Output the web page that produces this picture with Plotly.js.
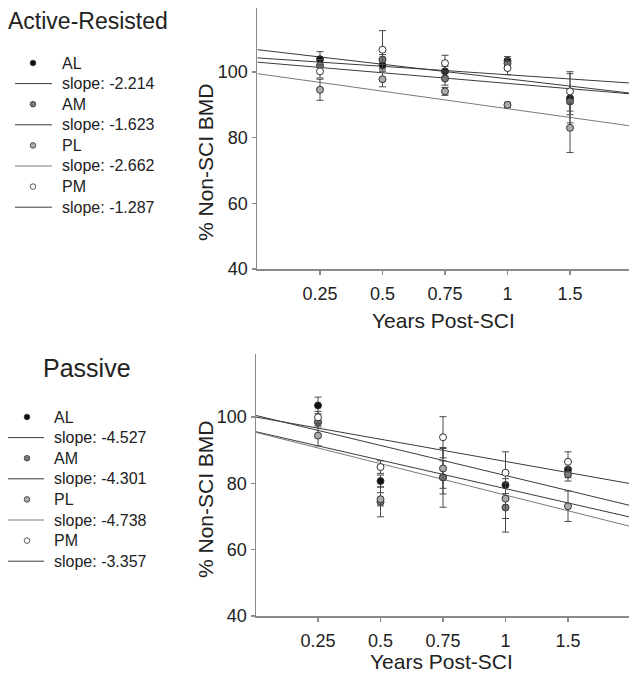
<!DOCTYPE html>
<html>
<head>
<meta charset="utf-8">
<script src="https://cdn.plot.ly/plotly-3.0.1.min.js"></script>
<style>html,body{margin:0;padding:0;background:#fff;}#chart{width:629px;height:675px;}</style>
</head>
<body>
<div id="chart"></div>
<script>
// ---------- data ----------
const xLabels = ["0.25", "0.5", "0.75", "1", "1.5"];
const seriesNames = ["AL", "AM", "PL", "PM"];

// Active-Resisted (% Non-SCI BMD)
const activeAL = [103.9, 102.1, 100.2, 103.4, 92.0];
const activeAM = [102.0, 103.8, 98.0, 102.6, 91.0];
const activePL = [94.6, 97.8, 94.1, 90.0, 83.0];
const activePM = [100.2, 106.8, 102.7, 101.2, 94.1];
const activeALerr = [2.3, 1.5, 1.5, 1.3, 7.5];
const activeAMerr = [1.8, 1.5, 2.0, 1.5, 4.0];
const activePLerr = [3.2, 2.3, 1.2, 0.8, 7.5];
const activePMerr = [2.0, 5.8, 2.4, 2.0, 6.0];
const activeSlopes = ["-2.214", "-1.623", "-2.662", "-1.287"];
// regression lines: value at left edge and right edge of the axis
const activeLineStart = [106.8, 103.0, 99.5, 104.3];
const activeLineEnd = [93.5, 93.3, 83.5, 96.6];

// Passive (% Non-SCI BMD)
const passiveAL = [103.5, 80.7, 81.8, 79.5, 84.2];
const passiveAM = [98.5, 74.4, 81.8, 72.7, 82.7];
const passivePL = [94.4, 75.2, 84.5, 75.4, 73.1];
const passivePM = [99.9, 84.9, 93.9, 83.2, 86.5];
const passiveALerr = [2.5, 1.8, 5.0, 4.0, 2.5];
const passiveAMerr = [1.5, 4.5, 9.0, 7.4, 2.0];
const passivePLerr = [3.1, 2.0, 6.0, 6.0, 4.6];
const passivePMerr = [1.8, 1.9, 6.2, 6.3, 3.0];
const passiveSlopes = ["-4.527", "-4.301", "-4.738", "-3.357"];
const passiveLineStart = [100.5, 95.6, 95.4, 100.0];
const passiveLineEnd = [73.3, 69.8, 67.0, 79.9];

const lineX = [-1, 5];
const yTicks = [40, 60, 80, 100];

// ---------- styling ----------
const W = 629, H = 675;
const FONT = "Liberation Sans, Arial, sans-serif";
const TXT = "#222";
const markerFill = ["#111111", "#7a7a7a", "#ababab", "#ffffff"];
const lineColors = ["#3a3a3a", "#3a3a3a", "#7a7a7a", "#3a3a3a"];
const px = x => x / W;
const py = y => 1 - y / H;
const xIdx = xLabels.map((_, i) => i);

const activeVals = [activeAL, activeAM, activePL, activePM];
const activeErrs = [activeALerr, activeAMerr, activePLerr, activePMerr];
const passiveVals = [passiveAL, passiveAM, passivePL, passivePM];
const passiveErrs = [passiveALerr, passiveAMerr, passivePLerr, passivePMerr];

const traces = [];
function addPanel(vals, errs, starts, ends, xa, ya) {
  seriesNames.forEach((n, i) => {
    traces.push({
      type: "scatter", mode: "lines", x: lineX, y: [starts[i], ends[i]],
      xaxis: xa, yaxis: ya, name: n + " fit", hoverinfo: "skip",
      line: {color: lineColors[i], width: 1}
    });
  });
  seriesNames.forEach((n, i) => {
    traces.push({
      type: "scatter", mode: "markers", x: xIdx, y: vals[i],
      xaxis: xa, yaxis: ya, name: n,
      error_y: {type: "data", array: errs[i], visible: true, color: "#4a4a4a", thickness: 1, width: 3.5},
      marker: {size: 7, color: markerFill[i], line: {color: "#333", width: 1}}
    });
  });
}
addPanel(activeVals, activeErrs, activeLineStart, activeLineEnd, "x", "y");
addPanel(passiveVals, passiveErrs, passiveLineStart, passiveLineEnd, "x2", "y2");

const axisCommon = {
  showline: true, linecolor: "#8a8a8a", linewidth: 1.5, showgrid: false, zeroline: false,
  ticks: "outside", ticklen: 4, tickwidth: 1.2, tickcolor: "#8a8a8a",
  tickfont: {family: FONT, size: 18, color: TXT}
};

const annotations = [];
const shapes = [];
function txt(text, x, y, size, opts) {
  annotations.push(Object.assign({
    text: text, x: px(x), y: py(y), xref: "paper", yref: "paper",
    showarrow: false, xanchor: "left", yanchor: "middle",
    font: {family: FONT, size: size, color: TXT}, borderpad: 0
  }, opts || {}));
}

// panel titles
txt("Active-Resisted", 7, 21, 23);
txt("Passive", 42, 368, 25);
// axis titles
txt("% Non-SCI BMD", 205, 162, 21, {textangle: -90, xanchor: "center"});
txt("% Non-SCI BMD", 205, 499, 21, {textangle: -90, xanchor: "center"});
txt("Years Post-SCI", 443, 321, 21, {xanchor: "center"});
txt("Years Post-SCI", 441, 661, 21, {xanchor: "center"});

// legends
function legend(slopes, y0, markX, lineX0, lineX1, textX) {
  const step = 20.6;
  seriesNames.forEach((n, i) => {
    const ym = y0 + step * 2 * i;
    const yl = ym + step;
    shapes.push({type: "circle", xref: "paper", yref: "paper",
      x0: px(markX - 2.8), x1: px(markX + 2.8), y0: py(ym - 2.8), y1: py(ym + 2.8),
      fillcolor: markerFill[i], line: {color: "#333", width: 0.8}});
    shapes.push({type: "line", xref: "paper", yref: "paper",
      x0: px(lineX0), x1: px(lineX1), y0: py(yl), y1: py(yl),
      line: {color: lineColors[i], width: 1}});
    txt(n, textX, ym, 16);
    txt("slope: " + slopes[i], textX, yl, 16);
  });
}
legend(activeSlopes, 63, 33, 15, 52, 61);
legend(passiveSlopes, 417, 27, 8, 44, 53);

const layout = {
  width: W, height: H, margin: {l: 0, r: 0, t: 0, b: 0},
  paper_bgcolor: "#fff", plot_bgcolor: "#fff", showlegend: false,
  xaxis: Object.assign({}, axisCommon, {domain: [257 / W, 1], anchor: "y",
    range: [-1.008, 4.944], tickvals: xIdx, ticktext: xLabels, ticklabelstandoff: 4}),
  yaxis: Object.assign({}, axisCommon, {domain: [py(269), py(8)], anchor: "x",
    range: [40, 119.5], tickvals: yTicks}),
  xaxis2: Object.assign({}, axisCommon, {domain: [256 / W, 1], anchor: "y2",
    range: [-0.992, 4.976], tickvals: xIdx, ticktext: xLabels, ticklabelstandoff: 4}),
  yaxis2: Object.assign({}, axisCommon, {domain: [py(616), py(354)], anchor: "x2",
    range: [40, 119], tickvals: yTicks}),
  annotations: annotations, shapes: shapes
};

Plotly.newPlot("chart", traces, layout, {displayModeBar: false, staticPlot: true});
</script>
</body>
</html>
